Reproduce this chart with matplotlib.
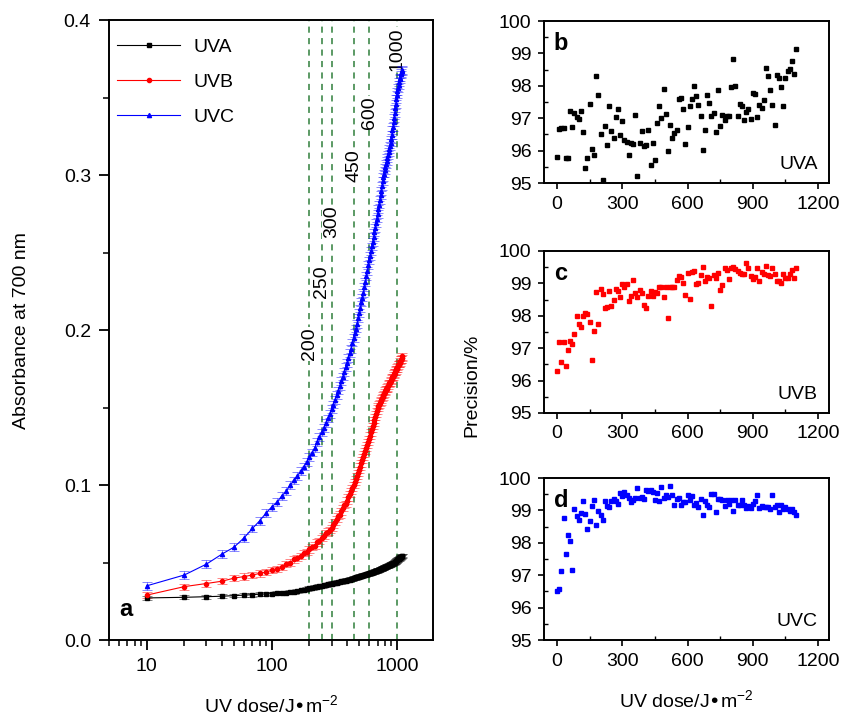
import matplotlib
matplotlib.use("Agg")
import matplotlib.pyplot as plt
from matplotlib.ticker import MultipleLocator, FixedLocator, NullFormatter

plt.rcParams['font.family'] = ['Liberation Sans', 'DejaVu Sans']
plt.rcParams['mathtext.default'] = 'regular'
plt.rcParams['axes.linewidth'] = 1.4

# ---- panel a: absorbance vs dose ----
dose = list(range(10, 1110, 10))

uva = [0.0272, 0.0276, 0.0280, 0.0283, 0.0287, 0.0290, 0.0293, 0.0296, 0.0298, 0.0300,
       0.0302, 0.0305, 0.0307, 0.0310, 0.0312, 0.0316, 0.0320, 0.0325, 0.0330, 0.0335,
       0.0338, 0.0341, 0.0344, 0.0347, 0.0350, 0.0353, 0.0356, 0.0359, 0.0362, 0.0365,
       0.0367, 0.0369, 0.0371, 0.0373, 0.0376, 0.0378, 0.0380, 0.0382, 0.0384, 0.0386,
       0.0388, 0.0390, 0.0393, 0.0396, 0.0400, 0.0402, 0.0404, 0.0406, 0.0408, 0.0410,
       0.0412, 0.0414, 0.0416, 0.0418, 0.0420, 0.0422, 0.0424, 0.0426, 0.0428, 0.0430,
       0.0432, 0.0434, 0.0436, 0.0438, 0.0440, 0.0442, 0.0444, 0.0446, 0.0448, 0.0450,
       0.0452, 0.0454, 0.0456, 0.0458, 0.0460, 0.0462, 0.0464, 0.0466, 0.0468, 0.0470,
       0.0472, 0.0474, 0.0476, 0.0478, 0.0480, 0.0482, 0.0484, 0.0486, 0.0488, 0.0490,
       0.0492, 0.0494, 0.0496, 0.0498, 0.0500, 0.0503, 0.0506, 0.0509, 0.0512, 0.0515,
       0.0518, 0.0521, 0.0524, 0.0527, 0.0530, 0.0533, 0.0536, 0.0539, 0.0542, 0.0545]

uvb = [0.029, 0.0345, 0.0365, 0.038, 0.040, 0.041, 0.042, 0.043, 0.044, 0.045,
       0.046, 0.047, 0.049, 0.050, 0.052, 0.053, 0.054, 0.056, 0.057, 0.0585,
       0.060, 0.061, 0.063, 0.064, 0.066, 0.067, 0.069, 0.070, 0.071, 0.0725,
       0.074, 0.076, 0.078, 0.080, 0.081, 0.083, 0.085, 0.087, 0.088, 0.090,
       0.092, 0.094, 0.096, 0.098, 0.100, 0.102, 0.104, 0.106, 0.108, 0.110,
       0.112, 0.114, 0.116, 0.118, 0.120, 0.122, 0.124, 0.126, 0.128, 0.130,
       0.132, 0.134, 0.136, 0.138, 0.140, 0.142, 0.144, 0.146, 0.148, 0.150,
       0.151, 0.152, 0.153, 0.154, 0.155, 0.156, 0.157, 0.158, 0.159, 0.160,
       0.161, 0.162, 0.162, 0.163, 0.164, 0.165, 0.166, 0.166, 0.167, 0.168,
       0.169, 0.170, 0.170, 0.171, 0.172, 0.173, 0.173, 0.174, 0.175, 0.175,
       0.176, 0.177, 0.178, 0.178, 0.179, 0.180, 0.181, 0.181, 0.182, 0.183]

uvc = [0.035, 0.042, 0.049, 0.0555, 0.060, 0.066, 0.072, 0.077, 0.082, 0.086,
       0.089, 0.093, 0.096, 0.100, 0.103, 0.106, 0.109, 0.112, 0.115, 0.118,
       0.121, 0.124, 0.128, 0.131, 0.134, 0.137, 0.140, 0.143, 0.146, 0.149,
       0.152, 0.155, 0.158, 0.161, 0.164, 0.167, 0.170, 0.173, 0.176, 0.179,
       0.182, 0.185, 0.188, 0.192, 0.195, 0.198, 0.201, 0.204, 0.208, 0.211,
       0.214, 0.218, 0.221, 0.224, 0.228, 0.231, 0.235, 0.238, 0.242, 0.245,
       0.248, 0.251, 0.254, 0.257, 0.260, 0.263, 0.266, 0.269, 0.272, 0.275,
       0.278, 0.281, 0.284, 0.287, 0.290, 0.293, 0.296, 0.299, 0.301, 0.303,
       0.305, 0.307, 0.309, 0.311, 0.313, 0.315, 0.317, 0.319, 0.321, 0.323,
       0.326, 0.329, 0.331, 0.334, 0.337, 0.340, 0.343, 0.346, 0.349, 0.352,
       0.354, 0.356, 0.358, 0.360, 0.362, 0.363, 0.365, 0.366, 0.367, 0.368]

err_uva = 0.0012
err_uvb = 0.0020
err_uvc = 0.0025

mark_doses = [200, 250, 300, 450, 600, 1000]
mark_label_y = [0.191, 0.231, 0.270, 0.306, 0.340, 0.381]

# ---- panels b-d: precision vs dose ----
pdose = list(range(0, 1110, 10))

prec_uva = [95.81, 96.67, 96.70, 96.70, 95.78, 95.78, 97.22, 96.72, 97.16, 97.03,
            96.98, 97.23, 96.56, 95.45, 95.78, 97.45, 96.04, 95.88, 98.30, 97.71,
            96.51, 95.08, 96.77, 96.17, 97.38, 96.61, 96.39, 97.03, 97.27, 96.49,
            96.91, 96.33, 96.28, 95.85, 96.23, 96.20, 97.10, 95.21, 96.25, 96.60,
            96.13, 96.17, 96.65, 95.56, 96.25, 95.71, 96.85, 97.38, 97.01, 97.90,
            97.14, 95.99, 96.80, 96.39, 96.54, 96.65, 97.58, 97.63, 97.27, 96.20,
            96.72, 97.38, 97.58, 98.00, 97.69, 97.40, 97.06, 96.02, 96.65, 97.73,
            97.48, 97.08, 97.17, 96.58, 97.86, 96.77, 97.10, 96.96, 97.08, 97.08,
            97.97, 98.82, 97.99, 97.06, 97.45, 97.38, 96.95, 97.19, 97.29, 96.98,
            97.78, 97.76, 97.03, 97.40, 97.31, 97.55, 98.54, 98.30, 97.86, 97.42,
            96.80, 98.33, 98.23, 97.95, 97.38, 98.25, 98.47, 98.51, 98.77, 98.35,
            99.13]

prec_uvb = [96.31, 97.18, 96.57, 97.18, 96.44, 96.93, 97.21, 97.14, 97.44, 97.99,
            97.75, 97.65, 97.99, 98.08, 98.05, 97.82, 96.64, 97.52, 98.73, 97.75,
            98.83, 98.67, 98.24, 98.28, 98.75, 98.29, 98.49, 98.83, 98.75, 98.59,
            98.98, 98.90, 98.97, 98.46, 98.62, 99.09, 98.70, 98.59, 98.79, 98.70,
            98.34, 98.24, 98.62, 98.75, 98.62, 98.73, 98.70, 98.90, 98.90, 98.57,
            98.90, 97.93, 98.88, 98.88, 98.90, 99.09, 99.24, 99.21, 99.00, 98.64,
            99.31, 98.52, 99.34, 99.39, 98.97, 99.00, 99.26, 99.52, 99.08, 99.21,
            99.16, 98.29, 99.26, 99.18, 99.31, 98.80, 98.95, 99.47, 99.42, 99.14,
            99.47, 99.52, 99.45, 99.39, 99.31, 99.28, 99.28, 99.62, 99.47, 99.23,
            99.14, 99.19, 99.47, 99.08, 99.34, 99.28, 99.55, 99.26, 99.24, 99.47,
            99.28, 99.08, 99.08, 99.00, 99.28, 99.18, 99.18, 99.28, 99.42, 99.18,
            99.47]

prec_uvc = [96.52, 96.57, 97.13, 98.77, 97.65, 98.25, 98.06, 97.15, 99.06, 98.82,
            98.70, 98.92, 99.30, 98.88, 98.42, 98.67, 99.14, 99.31, 98.54, 98.98,
            98.87, 98.70, 99.28, 99.13, 99.10, 99.28, 99.35, 99.29, 99.21, 99.54,
            99.45, 99.57, 99.49, 99.39, 99.26, 99.33, 99.39, 99.69, 99.39, 99.41,
            99.36, 99.64, 99.60, 99.62, 99.57, 99.31, 99.54, 99.29, 99.74, 99.39,
            99.47, 99.41, 99.75, 99.47, 99.16, 99.36, 99.39, 99.16, 99.26, 99.26,
            99.47, 99.33, 99.44, 99.16, 99.24, 99.11, 99.34, 98.87, 99.28, 99.16,
            99.11, 99.52, 99.50, 98.95, 99.36, 99.34, 99.31, 99.13, 99.31, 99.19,
            99.31, 98.99, 99.31, 99.16, 99.18, 99.31, 99.18, 99.08, 99.14, 99.08,
            99.21, 99.28, 99.47, 99.08, 99.13, 99.11, 99.11, 99.11, 99.06, 99.47,
            99.11, 99.16, 98.95, 99.16, 99.06, 99.11, 99.06, 98.98, 99.06, 98.95,
            98.85]

fig = plt.figure(figsize=(8.42, 7.2), dpi=100)

# ---- main panel ----
ax = fig.add_axes([0.1295, 0.111, 0.385, 0.861])
green = '#2f7f3a'
for d in mark_doses:
    ax.axvline(d, color=green, ls=(0, (4, 3.5)), lw=1.1, zorder=1)
for d, ly in zip(mark_doses, mark_label_y):
    ax.text(d, ly, str(d), rotation=90, ha='center', va='center', fontsize=14,
            bbox=dict(facecolor='white', edgecolor='none', pad=0.5), zorder=2)

series = [(uva, err_uva, 'black', 's', 'UVA'),
          (uvb, err_uvb, 'red', 'o', 'UVB'),
          (uvc, err_uvc, 'blue', '^', 'UVC')]
handles = []
for vals, err, col, mk, lab in series:
    ax.errorbar(dose, vals, yerr=err, fmt='none', ecolor=col, elinewidth=0.6,
                capsize=3.5, capthick=0.6, alpha=0.55, zorder=3)
    h, = ax.plot(dose, vals, color=col, lw=0.8, marker=mk, ms=3, label=lab, zorder=4)
    handles.append(h)

ax.set_xscale('log')
ax.set_xlim(5, 1950)
ax.set_ylim(0, 0.4)
ax.set_xticks([10, 100, 1000])
ax.set_xticklabels(['10', '100', '1000'])
ax.yaxis.set_major_locator(MultipleLocator(0.1))
ax.yaxis.set_minor_locator(MultipleLocator(0.05))
ax.yaxis.set_major_formatter(plt.FormatStrFormatter('%.1f'))
ax.tick_params(which='major', direction='out', length=7, width=1.3, labelsize=14, pad=6)
ax.tick_params(which='minor', direction='out', length=4, width=1.1)
ax.xaxis.set_minor_formatter(NullFormatter())
ax.set_ylabel('Absorbance at 700 nm', fontsize=14, labelpad=24)
ax.set_xlabel('UV dose/J\u2022m$^{-2}$', fontsize=14, labelpad=14)
ax.legend(handles=handles, loc='upper left', frameon=False, fontsize=14,
          handlelength=3.2, handletextpad=0.7, labelspacing=0.9,
          borderaxespad=0.2, bbox_to_anchor=(-0.01, 0.99))
ax.text(0.03, 0.03, 'a', transform=ax.transAxes, fontsize=17, fontweight='bold',
        ha='left', va='bottom')

# ---- right panels ----
panels = [(prec_uva, 'black', 'b', 'UVA', 0.7458),
          (prec_uvb, 'red', 'c', 'UVB', 0.4264),
          (prec_uvc, 'blue', 'd', 'UVC', 0.111)]
for vals, col, letter, lab, bottom in panels:
    a = fig.add_axes([0.646, bottom, 0.3385, 0.225])
    a.plot(pdose, vals, ls='none', marker='s', ms=3.2, color=col, mec=col)
    a.set_xlim(-60, 1250)
    a.set_ylim(95, 100)
    a.xaxis.set_major_locator(FixedLocator([0, 300, 600, 900, 1200]))
    a.xaxis.set_minor_locator(FixedLocator([150, 450, 750, 1050]))
    a.yaxis.set_major_locator(MultipleLocator(1))
    a.yaxis.set_minor_locator(MultipleLocator(0.5))
    a.tick_params(which='major', direction='out', length=4, width=1.2, labelsize=14, pad=5)
    a.tick_params(which='minor', direction='in', length=3, width=1.0)
    a.text(0.035, 0.93, letter, transform=a.transAxes, fontsize=17, fontweight='bold',
           ha='left', va='top')
    a.text(0.96, 0.06, lab, transform=a.transAxes, fontsize=14, ha='right', va='bottom')
    if letter == 'd':
        a.set_xlabel('UV dose/J\u2022m$^{-2}$', fontsize=14, labelpad=14)

fig.text(0.56, 0.465, 'Precision/%', rotation=90, fontsize=14, ha='center', va='center')

fig.savefig('out.png', dpi=100)
